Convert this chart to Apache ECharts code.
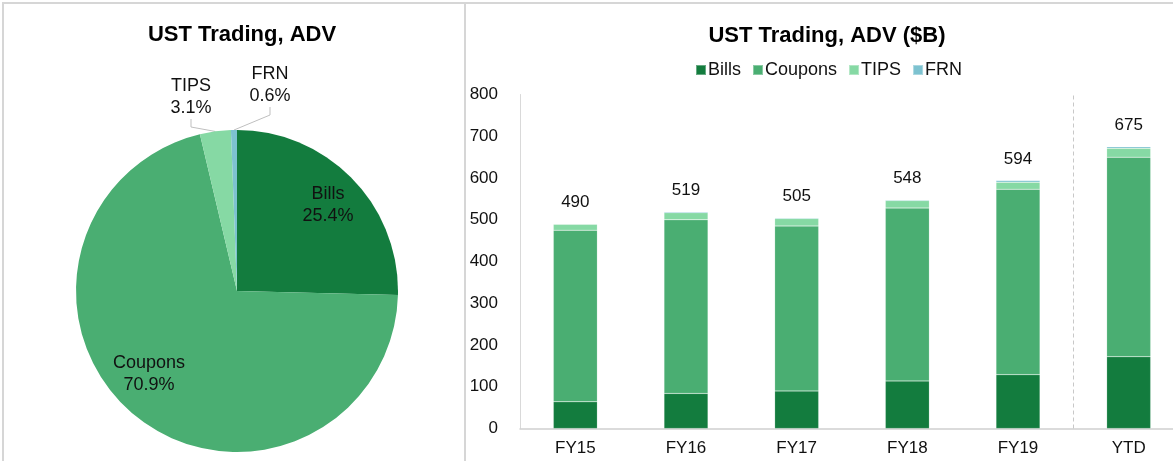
<!DOCTYPE html>
<html>
<head>
<meta charset="utf-8">
<script src="https://cdn.jsdelivr.net/npm/echarts@6/dist/echarts.min.js"></script>
<style>
  html, body { margin: 0; padding: 0; background: #fff; }
  #main { width: 1173px; height: 461px; }
</style>
</head>
<body>
<div id="main"></div>
<script>
// bar chart data ($B)
const categories = ['FY15', 'FY16', 'FY17', 'FY18', 'FY19', 'YTD'];
const bills = [64, 84, 90, 114, 129, 172];
const coupons = [411, 416, 395, 414, 444, 478];
const tips = [14, 17, 18, 18, 17, 21];
const frn = [1, 2, 2, 2, 4, 4];
const totals = [490, 519, 505, 548, 594, 675];

// pie data (% share of YTD ADV)
const pieNames = ['Bills', 'Coupons', 'TIPS', 'FRN'];
const pieShares = [25.4, 70.9, 3.1, 0.6];

const colors = ['#137c3e', '#4aae72', '#86d9a4', '#7dc2d0'];
const font = 'Liberation Sans, Arial, sans-serif';

// where excel put the pie labels
const pieLabelPos = [
  { x: 328, y: 205 },
  { x: 149, y: 374 },
  { x: 191, y: 97 },
  { x: 270, y: 85 }
];

const chart = echarts.init(document.getElementById('main'));

const barSeries = [bills, coupons, tips, frn].map((d, i) => {
  const s = {
    name: pieNames[i],
    type: 'bar',
    stack: 'adv',
    data: d,
    barWidth: 44,
    itemStyle: { color: colors[i], borderColor: 'rgba(255,255,255,0.35)', borderWidth: 0.5 },
    emphasis: { disabled: true }
  };
  if (i === 3) {
    s.label = {
      show: true,
      position: 'top',
      distance: 13,
      fontFamily: font,
      fontSize: 17,
      color: '#111',
      formatter: p => totals[p.dataIndex]
    };
  }
  return s;
});

chart.setOption({
  animation: false,
  textStyle: { fontFamily: font },
  title: [
    {
      text: 'UST Trading, ADV',
      left: 237, top: 19, textAlign: 'center',
      textStyle: { fontFamily: font, fontSize: 22, fontWeight: 'bold', color: '#000' }
    },
    {
      text: 'UST Trading, ADV ($B)',
      left: 822, top: 20, textAlign: 'center',
      textStyle: { fontFamily: font, fontSize: 22, fontWeight: 'bold', color: '#000' }
    }
  ],
  legend: {
    data: pieNames,
    left: 690, top: 56,
    icon: 'rect',
    itemWidth: 10, itemHeight: 10, itemGap: 11,
    textStyle: { fontFamily: font, fontSize: 18, color: '#111', padding: [0, 0, 0, -3] }
  },
  graphic: [
    { type: 'rect', shape: { x: 3, y: 3, width: 462, height: 470 }, style: { fill: 'none', stroke: '#d6d6d6', lineWidth: 2 } },
    { type: 'rect', shape: { x: 465, y: 3, width: 720, height: 470 }, style: { fill: 'none', stroke: '#d6d6d6', lineWidth: 2 } }
  ],
  // plot area runs a little past the right edge of the picture, as in the source
  grid: { left: 520, width: 664, top: 94.5, bottom: 32.5, outerBoundsMode: 'none', containLabel: false },
  xAxis: [
    {
      type: 'category',
      data: categories,
      axisLine: { lineStyle: { color: '#d0d0d0', width: 1.5 } },
      axisTick: { show: false },
      axisLabel: { fontFamily: font, fontSize: 17, color: '#111', margin: 11 }
    },
    // hidden value axis over the same band, used only to place the divider
    { type: 'value', min: -0.5, max: 5.5, show: false }
  ],
  yAxis: {
    type: 'value',
    min: 0, max: 800, interval: 100,
    axisLine: { show: true, onZero: false, lineStyle: { color: '#d9d9d9', width: 1 } },
    axisTick: { show: false },
    splitLine: { show: false },
    axisLabel: { fontFamily: font, fontSize: 17, color: '#111', margin: 22 }
  },
  series: [
    ...barSeries,
    {
      type: 'line',
      xAxisIndex: 1,
      data: [],
      silent: true,
      markLine: {
        silent: true,
        symbol: 'none',
        label: { show: false },
        lineStyle: { color: '#c8c8c8', type: [4, 3], width: 1 },
        data: [{ xAxis: 4.5 }]
      }
    },
    {
      type: 'pie',
      center: [237, 291],
      radius: 161,
      startAngle: 90,
      clockwise: true,
      legendHoverLink: false,
      emphasis: { disabled: true },
      data: pieNames.map((n, i) => ({
        name: n,
        value: pieShares[i],
        itemStyle: { color: colors[i] },
        label: { position: i < 2 ? 'inside' : 'outside' },
        labelLine: { show: i >= 2 }
      })),
      label: {
        formatter: p => p.name + '\n' + p.value.toFixed(1) + '%',
        fontFamily: font,
        fontSize: 18,
        lineHeight: 22,
        color: '#111',
        align: 'center'
      },
      labelLine: { length: 10, length2: 8, lineStyle: { color: '#bfbfbf', width: 1 } },
      labelLayout: p => ({
        x: pieLabelPos[p.dataIndex].x,
        y: pieLabelPos[p.dataIndex].y,
        align: 'center',
        verticalAlign: 'middle'
      })
    }
  ]
});
</script>
</body>
</html>
